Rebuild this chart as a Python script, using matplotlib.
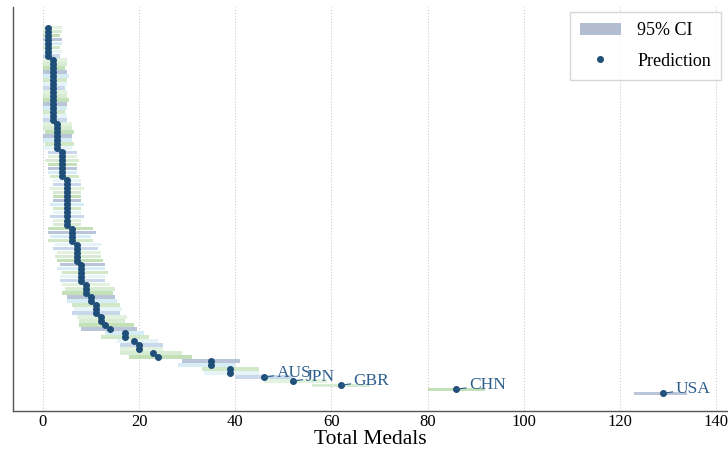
import matplotlib.pyplot as plt
from matplotlib.patches import Patch
from matplotlib.lines import Line2D

plt.rcParams["font.family"] = ["Liberation Serif", "DejaVu Serif"]

# predicted total medals per country, smallest first
pred = ([1] * 8 + [2] * 16 + [3] * 7 + [4] * 7 + [5] * 12 + [6] * 4 + [7] * 5
        + [8] * 5 + [9] * 3 + [10] * 2 + [11] * 3 + [12] * 2
        + [13, 14, 17, 17, 19, 20, 20, 23, 24, 35, 35, 39, 39, 46, 52, 62, 86, 129])

ci_low = ([0] * 8 + [0] * 16 + [0, 0, 0.5, 0, 0, 0.5, 0] + [1, 1, 0.5, 1, 1, 1, 1.5]
          + [2, 2, 1.5, 2, 2, 2, 1.5, 2, 2, 1.5, 2, 2] + [1, 1, 1.5, 1]
          + [2.5, 2, 3, 2.5, 3] + [3.5, 3, 4, 3.5, 3.5] + [4, 4.5, 4]
          + [5, 5] + [6, 6.5, 6] + [7, 7.5]
          + [7.5, 8, 13, 12, 15.5, 16, 16, 16, 18, 29, 28, 33, 33.5, 40, 46, 56, 80, 123])

ci_high = ([4, 4, 3.5, 4, 4, 3.5, 4, 3.5]
           + [5, 5, 4.5, 5, 5.5, 5, 5, 4.5, 5, 5, 5.5, 5, 5, 4.5, 5, 5]
           + [6, 6, 6.5, 6, 6, 6.5, 6] + [7, 7, 7.5, 7, 7, 7, 7.5]
           + [8, 8, 8.5, 8, 8, 8, 8.5, 8, 8, 8.5, 8, 8] + [10.5, 11, 10, 10.5]
           + [12, 11.5, 12, 12, 12.5] + [13, 13, 13.5, 13, 13] + [14, 15, 14.5]
           + [15, 15.5] + [16, 16.5, 16] + [17.5, 17]
           + [19, 19.5, 21, 22, 24, 25, 25, 29, 31, 41, 40, 45, 45, 52, 59, 68, 92, 134])

countries = ["AUS", "JPN", "GBR", "CHN", "USA"]

bar_colors = ["#dcefd6", "#cfe8c8", "#b4d9a6", "#a9b7d1", "#cde9f3",
              "#c6e4bc", "#e0f2f7", "#bcd0e6"]
dot_color = "#1f4e79"
text_color = "#2e5f8c"

fig = plt.figure(figsize=(7.28, 4.53), dpi=100)
ax = fig.add_axes([0.018, 0.092, 0.98, 0.893])

rows = list(range(len(pred)))
widths = [h - l for l, h in zip(ci_low, ci_high)]
colors = [bar_colors[i % len(bar_colors)] for i in rows]
ax.barh(rows, widths, left=ci_low, height=0.85, color=colors, alpha=0.8,
        edgecolor="none", zorder=1)
ax.scatter(pred, rows, s=16, color=dot_color, zorder=3)

first = len(pred) - len(countries)
for k, name in enumerate(countries):
    i = first + k
    ax.annotate(name, xy=(pred[i], i), xytext=(9, 3), textcoords="offset points",
                ha="left", va="center", fontsize=12.5, color=text_color,
                arrowprops=dict(arrowstyle="-", color=text_color, lw=0.8,
                                shrinkA=0, shrinkB=0))

ax.set_xlim(-6.2, 142.2)
ax.set_ylim(95.5, -5.2)
ax.set_yticks([])
ax.set_xticks(range(0, 141, 20))
ax.tick_params(axis="x", length=0, labelsize=12, pad=2)
ax.set_xlabel("Total Medals", fontsize=15.5, labelpad=0)
ax.grid(axis="x", linestyle=":", color="#cccccc", lw=0.8)
ax.set_axisbelow(True)
for side in ["top", "right"]:
    ax.spines[side].set_visible(False)
for side in ["left", "bottom"]:
    ax.spines[side].set_color("#555555")
    ax.spines[side].set_linewidth(1.0)

handles = [Patch(facecolor="#b3bdd1", edgecolor="none", label="95% CI"),
           Line2D([], [], marker="o", linestyle="none", color=dot_color,
                  markersize=4, label="Prediction")]
ax.legend(handles=handles, loc="upper right", fontsize=13, frameon=True,
          fancybox=False, edgecolor="#cccccc", borderpad=0.55, handlelength=2.3,
          handletextpad=0.9, labelspacing=0.75, borderaxespad=0.3)

fig.savefig("out.png", dpi=100)
